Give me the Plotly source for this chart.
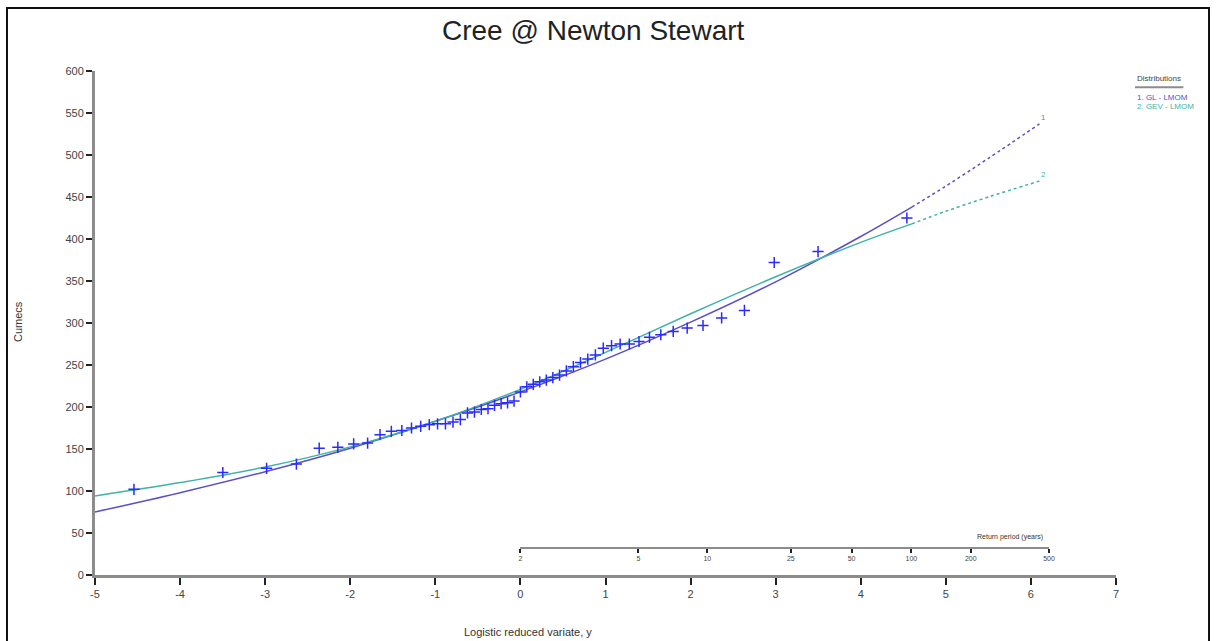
import numpy as np
import plotly.graph_objects as go

# ---- data ----
obs_y = [-4.542, -3.498, -2.983, -2.633, -2.365, -2.146, -1.960, -1.796, -1.650, -1.517,
         -1.394, -1.280, -1.172, -1.071, -0.974, -0.881, -0.792, -0.706, -0.622, -0.540,
         -0.460, -0.381, -0.304, -0.227, -0.151, -0.075, 0.0, 0.075, 0.151, 0.227,
         0.304, 0.381, 0.460, 0.540, 0.622, 0.706, 0.792, 0.881, 0.974, 1.071,
         1.172, 1.280, 1.394, 1.517, 1.650, 1.796, 1.960, 2.146, 2.365, 2.633,
         2.983, 3.498, 4.542]
obs_q = [102, 122, 127, 132, 151, 152, 156, 157, 167, 171,
         172, 175, 177, 179, 180, 180, 182, 185, 193, 194,
         197, 198, 202, 204, 205, 207, 218, 224, 227, 230,
         232, 235, 238, 243, 248, 253, 257, 262, 270, 273,
         275, 275, 278, 283, 286, 290, 294, 297, 306, 315,
         372, 385, 425]

gl_y_solid = [-5, -4, -3, -2, -1, 0, 1, 2, 3, 4, 4.6]
gl_q_solid = [75, 98, 123, 151, 183, 218, 257, 301, 349, 403, 438]
gl_y_dash = [4.6, 5, 5.5, 6.1]
gl_q_dash = [438, 463, 496, 537]

gev_y_solid = [-5, -4, -3, -2, -1, 0, 1, 2, 3, 4, 4.6]
gev_q_solid = [94, 110, 128.5, 152.5, 183, 221, 265, 311, 355, 396, 418]
gev_y_dash = [4.6, 5, 5.5, 6.1]
gev_q_dash = [418, 433, 450, 469]

x_ticks = [-5, -4, -3, -2, -1, 0, 1, 2, 3, 4, 5, 6, 7]
y_ticks = list(range(0, 601, 50))
return_periods = [2, 5, 10, 25, 50, 100, 200, 500]

GL_COL = "#5a4fc6"
GEV_COL = "#3fb2a6"
PT_COL = "#2a2aff"
FONT = "Liberation Sans, Arial, sans-serif"

fig = go.Figure()
fig.add_trace(go.Scatter(x=gl_y_solid, y=gl_q_solid, mode="lines", line=dict(color=GL_COL, width=1.5, shape="spline"), showlegend=False))
fig.add_trace(go.Scatter(x=gl_y_dash, y=gl_q_dash, mode="lines", line=dict(color=GL_COL, width=1.5, dash="3px,3px", shape="spline"), showlegend=False))
fig.add_trace(go.Scatter(x=gev_y_solid, y=gev_q_solid, mode="lines", line=dict(color=GEV_COL, width=1.5, shape="spline"), showlegend=False))
fig.add_trace(go.Scatter(x=gev_y_dash, y=gev_q_dash, mode="lines", line=dict(color=GEV_COL, width=1.5, dash="3px,3px", shape="spline"), showlegend=False))
fig.add_trace(go.Scatter(x=obs_y, y=obs_q, mode="markers",
                         marker=dict(symbol="cross-thin", size=8, line=dict(color=PT_COL, width=1.5)),
                         showlegend=False))

# return-period axis (logistic reduced variate = ln(T-1))
rp_pos = [float(np.log(t - 1)) for t in return_periods]
fig.add_trace(go.Scatter(x=rp_pos, y=[None] * len(rp_pos), xaxis="x2", yaxis="y",
                         mode="markers", showlegend=False, hoverinfo="skip"))

xr = [-5, 7]
d0 = (rp_pos[0] - xr[0]) / (xr[1] - xr[0])
d1 = (rp_pos[-1] - xr[0]) / (xr[1] - xr[0])

fig.update_layout(
    width=1216, height=641,
    margin=dict(l=95, r=100, t=71, b=66),
    paper_bgcolor="white", plot_bgcolor="rgba(0,0,0,0)",
    font=dict(family=FONT, size=11, color="#444"),
    xaxis=dict(range=xr, tickvals=x_ticks, ticktext=[str(v) for v in x_ticks],
               showgrid=False, zeroline=False, showline=True, linecolor="#8c8c8c", linewidth=3,
               ticks="outside", ticklen=7, tickwidth=2, tickcolor="#222",
               tickfont=dict(size=11, color="#444")),
    yaxis=dict(range=[0, 600], tickvals=y_ticks, ticktext=[str(v) for v in y_ticks],
               showgrid=False, zeroline=False, showline=True, linecolor="#8c8c8c", linewidth=3,
               ticks="outside", ticklen=6, tickwidth=2, tickcolor="#222",
               tickfont=dict(size=11, color="#444")),
    xaxis2=dict(domain=[d0, d1], range=[rp_pos[0], rp_pos[-1]], anchor="free", position=0.054,
                tickvals=rp_pos, ticktext=[str(t) for t in return_periods],
                showgrid=False, zeroline=False, showline=True, linecolor="#8c8c8c", linewidth=2,
                ticks="outside", ticklen=4, tickwidth=1.5, tickcolor="#222",
                tickfont=dict(size=7, color="#444")),
)

ann = []
ann.append(dict(text="Cree @ Newton Stewart", xref="paper", yref="paper", x=0.4878, y=1.081,
                showarrow=False, font=dict(size=28, color="#222", family=FONT), xanchor="center", yanchor="middle"))
ann.append(dict(text="Cumecs", xref="paper", yref="paper", x=-0.0754, y=0.502, textangle=-90,
                showarrow=False, font=dict(size=11, color="#333"), xanchor="center", yanchor="middle"))
ann.append(dict(text="Logistic reduced variate, y", xref="paper", yref="paper", x=0.424, y=-0.113,
                showarrow=False, font=dict(size=11, color="#333"), xanchor="center", yanchor="middle"))
ann.append(dict(text="Return period (years)", xref="paper", yref="paper", x=0.896, y=0.075,
                showarrow=False, font=dict(size=7, color="#333"), xanchor="center", yanchor="middle"))
ann.append(dict(text="Distributions", xref="paper", yref="paper", x=1.0186, y=0.986,
                showarrow=False, font=dict(size=8, color="#444"), xanchor="left", yanchor="middle"))
ann.append(dict(text="1. GL - LMOM", xref="paper", yref="paper", x=1.0186, y=0.948,
                showarrow=False, font=dict(size=8, color=GL_COL), xanchor="left", yanchor="middle"))
ann.append(dict(text="2. GEV - LMOM", xref="paper", yref="paper", x=1.0186, y=0.9286,
                showarrow=False, font=dict(size=8, color=GEV_COL), xanchor="left", yanchor="middle"))
ann.append(dict(text="1", x=gl_y_dash[-1], y=gl_q_dash[-1], xref="x", yref="y", xanchor="left",
                yanchor="bottom", showarrow=False, font=dict(size=8, color="#c06080")))
ann.append(dict(text="2", x=gev_y_dash[-1], y=gev_q_dash[-1], xref="x", yref="y", xanchor="left",
                yanchor="bottom", showarrow=False, font=dict(size=8, color=GEV_COL)))
fig.update_layout(annotations=ann)

fig.update_layout(shapes=[
    dict(type="line", xref="paper", yref="paper", x0=1.0186, x1=1.066, y0=0.968, y1=0.968,
         line=dict(color="#8c8c8c", width=2)),
    dict(type="rect", xref="paper", yref="paper", x0=-0.0862, x1=1.0911, y0=-0.2, y1=1.125,
         line=dict(color="#111", width=2), fillcolor="rgba(0,0,0,0)"),
])

fig.write_html("out.html", config={"displayModeBar": False},
               post_script="document.body.style.margin='0';document.body.style.overflow='hidden';")
